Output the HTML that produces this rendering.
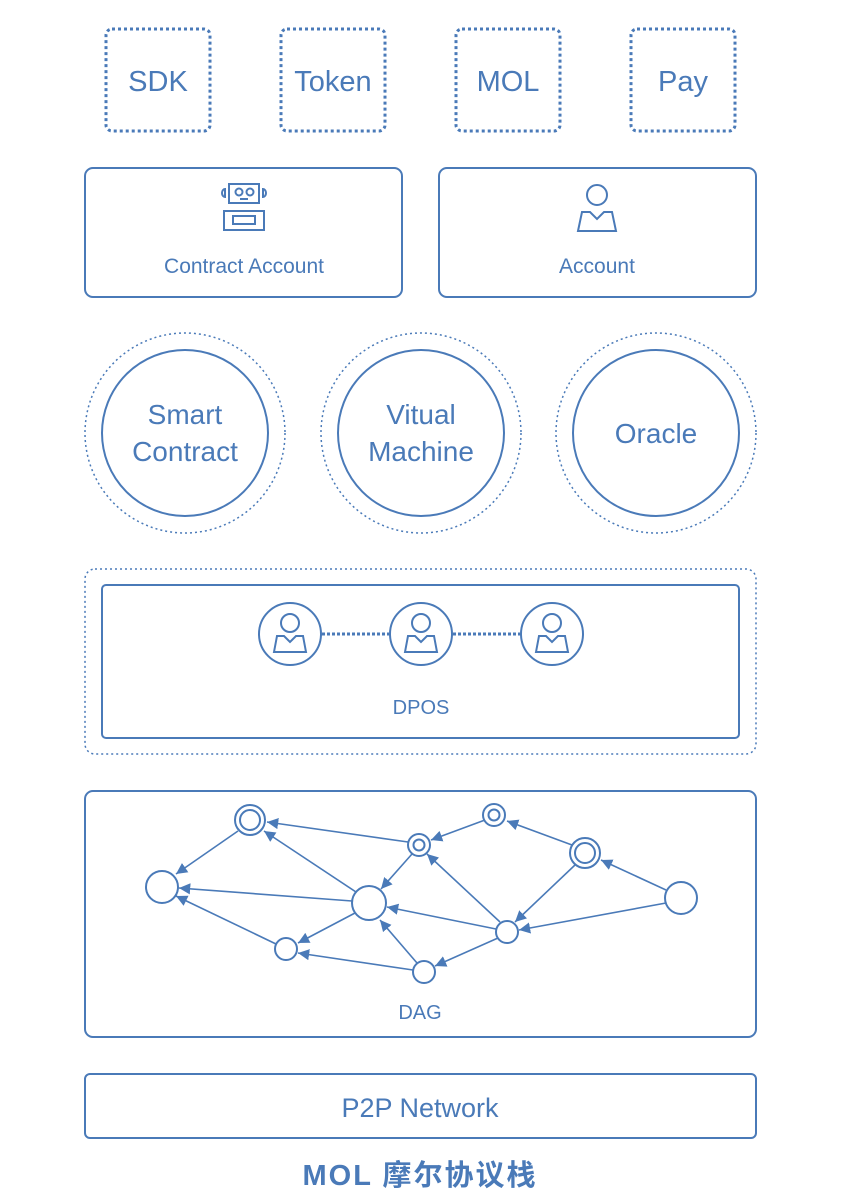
<!DOCTYPE html><html><head><style>body{margin:0;background:#fff}svg{display:block}text{font-family:"Liberation Sans","Noto Sans CJK SC",sans-serif;fill:#4a7ab8}</style></head><body>
<svg width="844" height="1200" viewBox="0 0 844 1200" xmlns="http://www.w3.org/2000/svg">
<defs><marker id="ar" viewBox="0 0 10 10" refX="10" refY="5" markerWidth="7" markerHeight="7" orient="auto"><path d="M0,0L10,5L0,10z" fill="#4a7ab8"/></marker>
<g id="person"><circle cx="0" cy="-11" r="10" fill="none" stroke="#4a7ab8" stroke-width="2"/><path d="M-19,25L-15,6L-7,6L0,13L7,6L15,6L19,25Z" fill="none" stroke="#4a7ab8" stroke-width="2"/></g>
<g id="person2"><circle cx="0" cy="-11" r="9" fill="none" stroke="#4a7ab8" stroke-width="2"/><path d="M-16,18L-13,2L-6,2L0,8L6,2L13,2L16,18Z" fill="none" stroke="#4a7ab8" stroke-width="2"/></g></defs>
<g fill="none" stroke="#4a7ab8" stroke-width="2">
<g stroke-dasharray="3,3" stroke-width="3">
<rect x="106" y="29" width="104" height="102" rx="6"/><rect x="281" y="29" width="104" height="102" rx="6"/><rect x="456" y="29" width="104" height="102" rx="6"/><rect x="631" y="29" width="104" height="102" rx="6"/></g>
<rect x="85" y="168" width="317" height="129" rx="8"/><rect x="439" y="168" width="317" height="129" rx="8"/>
<g stroke-width="1.5" stroke-dasharray="2,3"><circle cx="185" cy="433" r="100"/><circle cx="421" cy="433" r="100"/><circle cx="656" cy="433" r="100"/></g>
<circle cx="185" cy="433" r="83"/><circle cx="421" cy="433" r="83"/><circle cx="656" cy="433" r="83"/>
<rect x="85" y="569" width="671" height="185" rx="10" stroke-dasharray="2,3" stroke-width="1.5"/>
<rect x="102" y="585" width="637" height="153" rx="4"/>
<circle cx="290" cy="634" r="31"/><circle cx="421" cy="634" r="31"/><circle cx="552" cy="634" r="31"/>
<line x1="322" y1="634" x2="389" y2="634" stroke-dasharray="3,2" stroke-width="3"/><line x1="453" y1="634" x2="520" y2="634" stroke-dasharray="3,2" stroke-width="3"/>
<rect x="85" y="791" width="671" height="246" rx="8"/>
<rect x="85" y="1074" width="671" height="64" rx="5"/>
<rect x="229" y="184" width="30" height="19"/><circle cx="239" cy="192" r="3.5"/><circle cx="250" cy="192" r="3.5"/><line x1="240" y1="199" x2="248" y2="199"/>
<rect x="224" y="211" width="40" height="19"/><rect x="233" y="216" width="22" height="8"/>
<path d="M225,189a3,4 0 0 0 0,8z"/><path d="M263,189a3,4 0 0 1 0,8z"/>
<g stroke-width="1.6" marker-end="url(#ar)">
<line x1="408" y1="842" x2="267" y2="822"/>
<line x1="238" y1="831" x2="176" y2="874"/>
<line x1="356" y1="892" x2="264" y2="831"/>
<line x1="352" y1="901" x2="179" y2="888"/>
<line x1="276" y1="944" x2="176" y2="896"/>
<line x1="355" y1="913" x2="298" y2="943"/>
<line x1="412" y1="854" x2="381" y2="889"/>
<line x1="485" y1="820" x2="431" y2="840"/>
<line x1="572" y1="845" x2="507" y2="821"/>
<line x1="666" y1="890" x2="601" y2="860"/>
<line x1="666" y1="903" x2="519" y2="930"/>
<line x1="575" y1="865" x2="515" y2="922"/>
<line x1="496" y1="929" x2="387" y2="907"/>
<line x1="500" y1="922" x2="427" y2="854"/>
<line x1="498" y1="938" x2="435" y2="966"/>
<line x1="417" y1="963" x2="380" y2="920"/>
<line x1="413" y1="970" x2="298" y2="953"/>
</g>
<circle cx="250" cy="820" r="15"/><circle cx="250" cy="820" r="10"/>
<circle cx="162" cy="887" r="16"/><circle cx="369" cy="903" r="17"/>
<circle cx="419" cy="845" r="11"/><circle cx="419" cy="845" r="5.5"/>
<circle cx="494" cy="815" r="11"/><circle cx="494" cy="815" r="5.5"/>
<circle cx="585" cy="853" r="15"/><circle cx="585" cy="853" r="10"/>
<circle cx="681" cy="898" r="16"/><circle cx="507" cy="932" r="11"/><circle cx="286" cy="949" r="11"/><circle cx="424" cy="972" r="11"/>
</g>
<use href="#person" x="597" y="206"/>
<use href="#person2" x="290" y="634"/><use href="#person2" x="421" y="634"/><use href="#person2" x="552" y="634"/>
<g text-anchor="middle">
<text x="158" y="91" font-size="29">SDK</text><text x="333" y="91" font-size="29">Token</text><text x="508" y="91" font-size="29">MOL</text><text x="683" y="91" font-size="29">Pay</text>
<text x="244" y="273" font-size="21">Contract Account</text><text x="597" y="273" font-size="21">Account</text>
<text x="185" y="424" font-size="28">Smart</text><text x="185" y="461" font-size="28">Contract</text>
<text x="421" y="424" font-size="28">Vitual</text><text x="421" y="461" font-size="28">Machine</text>
<text x="656" y="443" font-size="28">Oracle</text>
<text x="421" y="714" font-size="20">DPOS</text>
<text x="420" y="1019" font-size="20">DAG</text>
<text x="420" y="1117" font-size="27">P2P Network</text>
<text x="420" y="1185" font-size="29" font-weight="bold" letter-spacing="2">MOL 摩尔协议栈</text>
</g>
</svg></body></html>
